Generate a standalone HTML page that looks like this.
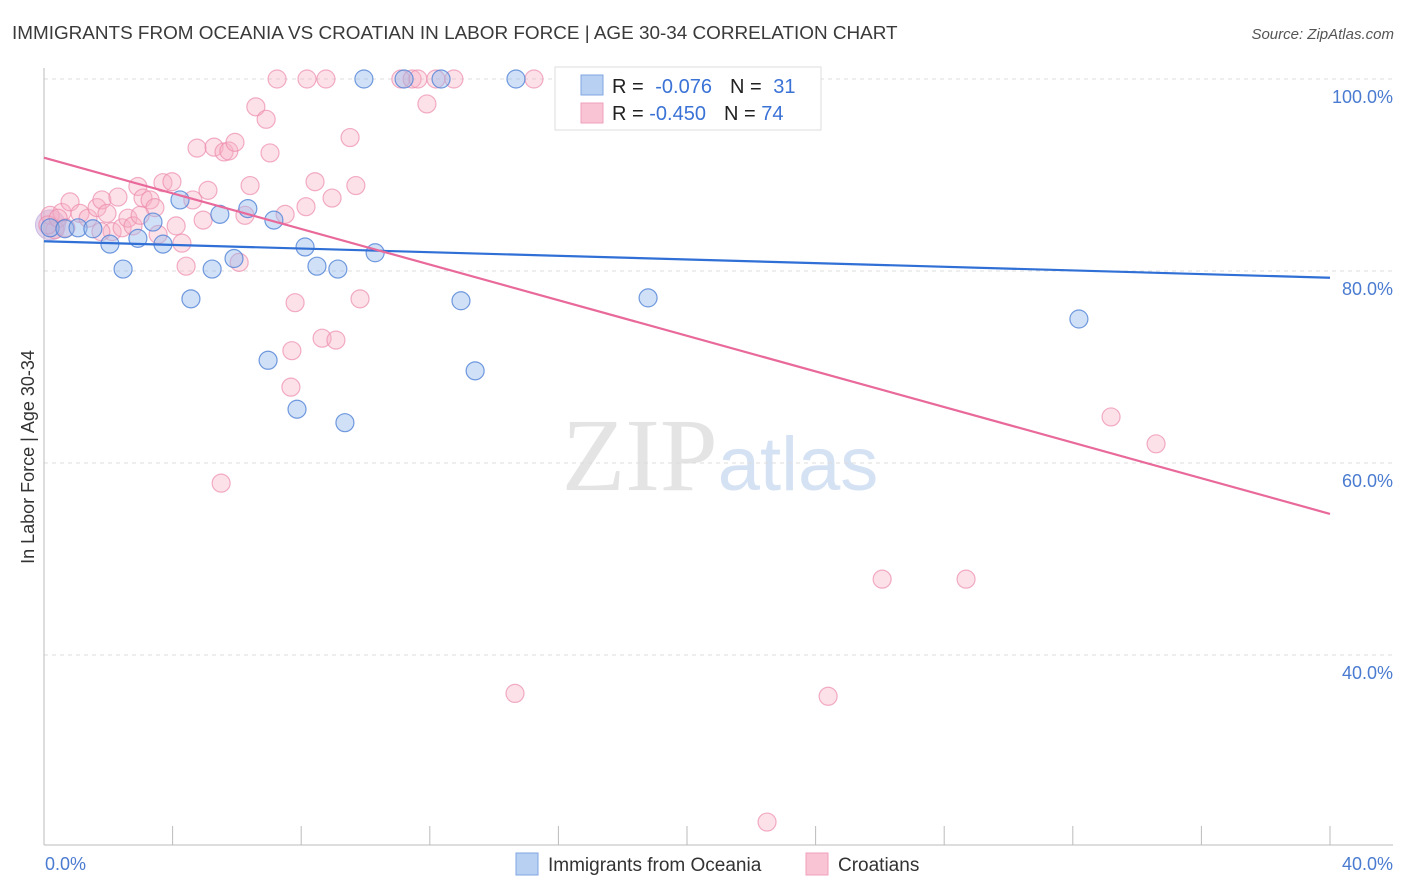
<!DOCTYPE html>
<html><head><meta charset="utf-8">
<style>
body{margin:0;background:#fff;font-family:"Liberation Sans",sans-serif;}
svg{display:block}
</style></head>
<body>
<svg id="chart" width="1406" height="892" xmlns="http://www.w3.org/2000/svg">
<text x="12" y="39" font-size="18.9" fill="#3a3a3a">IMMIGRANTS FROM OCEANIA VS CROATIAN IN LABOR FORCE | AGE 30-34 CORRELATION CHART</text>
<text x="1394" y="39" font-size="15" fill="#555" text-anchor="end" font-style="italic">Source: ZipAtlas.com</text>
<text x="720" y="490" font-size="104" text-anchor="middle" font-family="Liberation Serif" fill="#e4e4e4">ZIP<tspan fill="#d5e2f4" font-family="Liberation Sans" font-size="76">atlas</tspan></text>
<g id="grid"></g>
<g id="axes"></g>
<g id="points"></g>
<g id="lines"></g>
<text transform="translate(34,457) rotate(-90)" font-size="18" fill="#333" text-anchor="middle">In Labor Force | Age 30-34</text>
<text x="45" y="870" font-size="18" fill="#4a7bd0">0.0%</text>
<text x="1393" y="870" font-size="18" fill="#4a7bd0" text-anchor="end">40.0%</text>
<g>
<rect x="555" y="67" width="266" height="63" fill="#fff" stroke="#ddd"/>
<rect x="581" y="75" width="22" height="20" fill="#b8d0f2" stroke="#7fa6e2"/>
<rect x="581" y="103" width="22" height="20" fill="#f9c5d5" stroke="#f0a0bb"/>
<text x="612" y="93" font-size="20" fill="#222">R = <tspan fill="#3a72d6" dx="6">-0.076</tspan><tspan dx="18" fill="#222">N = </tspan><tspan dx="6" fill="#3a72d6">31</tspan></text>
<text x="612" y="120" font-size="20" fill="#222">R = <tspan fill="#3a72d6">-0.450</tspan><tspan dx="18" fill="#222">N = </tspan><tspan fill="#3a72d6">74</tspan></text>
</g>
<g>
<rect x="516" y="853" width="22" height="22" fill="#b8d0f2" stroke="#7fa6e2"/>
<text x="548" y="871" font-size="19" fill="#333">Immigrants from Oceania</text>
<rect x="806" y="853" width="22" height="22" fill="#f9c5d5" stroke="#f0a0bb"/>
<text x="838" y="871" font-size="19" fill="#333">Croatians</text>
</g>
</svg>
<script>
const blueX=[0.19,0.65,1.06,1.52,2.05,2.46,2.92,3.39,3.70,4.23,4.57,5.23,5.47,5.91,6.34,6.97,7.15,7.87,8.12,8.49,9.14,9.36,9.95,10.30,11.20,12.35,12.97,13.41,14.68,18.79,32.19];
const blueY=[84.5,84.4,84.5,84.4,82.8,80.2,83.4,85.1,82.8,87.4,77.1,80.2,85.9,81.3,86.5,70.7,85.3,65.6,82.5,80.5,80.2,64.2,100,81.9,100,100,76.9,69.6,100,77.2,75.0];
const pinkX=[0.19,0.34,0.56,0.81,1.12,1.37,1.65,1.80,1.96,2.12,2.30,2.43,2.61,2.77,2.92,3.08,3.30,3.45,3.55,3.70,3.98,4.29,4.42,4.63,4.76,4.95,5.10,5.29,5.51,5.60,5.75,5.94,6.07,6.25,6.41,6.59,6.91,7.03,7.25,7.50,7.81,7.68,7.71,8.15,8.18,8.43,8.65,8.77,8.96,9.08,9.52,9.70,9.83,11.10,11.45,11.63,11.91,12.19,12.75,14.65,15.24,23.20,24.39,26.07,28.68,33.19,34.59,22.49,0.12,0.44,0.68,1.77,2.99,4.11];
const pinkY=[85.8,84.3,86.1,87.2,86.0,85.5,86.6,87.4,86.0,84.1,87.7,84.5,85.5,84.7,88.8,87.6,87.4,86.6,83.8,89.2,89.3,82.9,80.5,87.4,92.8,85.3,88.4,92.9,57.9,92.4,92.5,93.4,80.9,85.8,88.9,97.1,95.8,92.3,100,85.9,76.7,67.9,71.7,86.7,100,89.3,73.0,100,87.6,72.8,93.9,88.9,77.1,100,100,100,97.4,100,100,36.0,100,100,35.7,47.9,47.9,64.8,62.0,22.6,84.8,85.5,84.5,84.1,85.8,84.7];
const blueLine=[83.1,79.3];
const pinkLine=[91.8,54.7];
const yTicks=[100,80,60,40];
const yTickLabels=["100.0%","80.0%","60.0%","40.0%"];
const xTicks=[0,4,8,12,16,20,24,28,32,36,40];

const NS="http://www.w3.org/2000/svg";
function xs(v){return 44+v*32.15;}
function ys(v){return 79+(100-v)*9.6;}
function mk(tag,attrs,parent){const e=document.createElementNS(NS,tag);for(const k in attrs)e.setAttribute(k,attrs[k]);parent.appendChild(e);return e;}
const grid=document.getElementById('grid'),axes=document.getElementById('axes'),pts=document.getElementById('points'),lines=document.getElementById('lines');
yTicks.forEach((t,i)=>{
  const l=mk('line',{x1:44,x2:1393,y1:ys(t),y2:ys(t),stroke:'#dcdcdc','stroke-dasharray':'4,4'},grid);
  
  
  const tx=mk('text',{x:1393,y:ys(t)+24,'font-size':18,fill:'#4a7bd0','text-anchor':'end'},axes);
  tx.textContent=yTickLabels[i];
  
  
});
const ax=mk('line',{x1:44,x2:44,y1:68,y2:845,stroke:'#bbb'},axes);


const bx=mk('line',{x1:44,x2:1393,y1:845,y2:845,stroke:'#bbb'},axes);


xTicks.forEach(t=>{
  const l=mk('line',{x1:xs(t),x2:xs(t),y1:826,y2:845,stroke:'#bbb'},axes);
  
  
});
function dot(x,y,r,fill,stroke,name){
  const c=mk('circle',{cx:xs(x),cy:ys(y),r:r,fill:fill,stroke:stroke,'stroke-width':1.2},pts);
  
  
}
const big=mk('circle',{cx:xs(0.2),cy:ys(84.8),r:15,fill:'rgba(190,160,210,0.45)',stroke:'rgba(180,160,220,0.6)'},pts);


pinkX.forEach((x,i)=>dot(x,pinkY[i],9,'rgba(246,175,198,0.38)','rgba(236,140,172,0.7)','croatian-point'));
blueX.forEach((x,i)=>dot(x,blueY[i],9,'rgba(150,186,236,0.45)','rgba(80,130,215,0.8)','oceania-point'));
const bl=mk('line',{x1:xs(0),y1:ys(blueLine[0]),x2:xs(40),y2:ys(blueLine[1]),stroke:'#2f6fd6','stroke-width':2.2},lines);


const pl=mk('line',{x1:xs(0),y1:ys(pinkLine[0]),x2:xs(40),y2:ys(pinkLine[1]),stroke:'#e8699a','stroke-width':2.2},lines);


</script>
</body></html>
